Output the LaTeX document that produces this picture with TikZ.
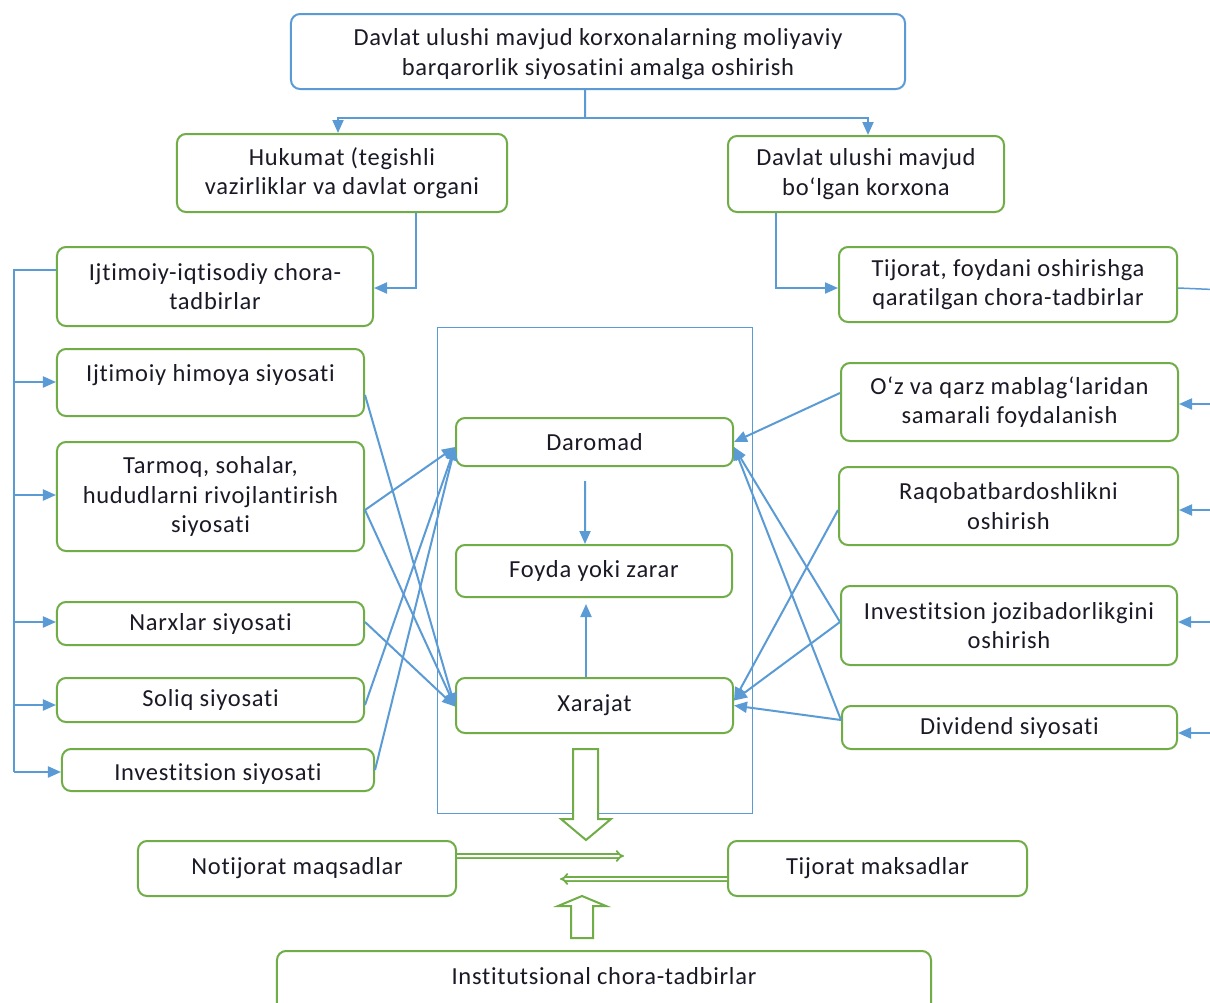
\documentclass[tikz,border=0pt]{standalone}
\usepackage{fontspec}
\setmainfont{Carlito}[LetterSpace=3.0, Ligatures=NoCommon]
\usetikzlibrary{arrows.meta,calc}
\definecolor{bl}{HTML}{5B9BD5}
\definecolor{gr}{HTML}{70AD47}
\definecolor{tx}{HTML}{1A1A26}
\begin{document}
\begin{tikzpicture}[x=1bp,y=-1bp,
 txt/.style={inner sep=0pt, align=center, text=tx, font=\fontsize{24.5bp}{29.5bp}\selectfont},
 box/.style={txt, draw=gr, line width=2bp, rounded corners=9bp},
 con/.style={draw=bl, line width=2bp},
 arr/.style={con, -{Triangle[length=13bp,width=11bp]}},
 dbl/.style={draw=gr, line width=1.8bp, double distance=2bp, -{Implies}},
 blk/.style={draw=gr, line width=2bp, fill=white},
]
\clip (0,0) rectangle (1210,1003);
\fill[white] (0,0) rectangle (1210,1003);

% central frame
\node[draw=bl, line width=1bp, minimum width=315bp, minimum height=486bp, inner sep=0pt] (frame) at (594.5,570) {};

% top
\node[box, draw=bl, minimum width=614bp, minimum height=75bp] (T) at (598,51.5) {};
\node[txt] (Tt) at (598,54) {Davlat ulushi mavjud korxonalarning moliyaviy\\barqarorlik siyosatini amalga oshirish};
\node[box, minimum width=330bp, minimum height=78bp] (H) at (342,173) {Hukumat (tegishli\\vazirliklar va davlat organi};
\node[box, minimum width=276bp, minimum height=76bp] (D) at (866,174) {Davlat ulushi mavjud\\bo‘lgan korxona};

% left column
\node[box, minimum width=316bp, minimum height=79bp] (L0) at (215,286.5) {Ijtimoiy-iqtisodiy chora-\\tadbirlar};
\node[box, minimum width=307bp, minimum height=67bp] (L1) at (210.5,382.5) {};
\node[txt] (L1t) at (210.5,375) {Ijtimoiy himoya siyosati};
\node[box, minimum width=307bp, minimum height=109bp] (L2) at (210.5,496.5) {Tarmoq, sohalar,\\hududlarni rivojlantirish\\siyosati};
\node[box, minimum width=307bp, minimum height=43bp] (L3) at (210.5,623.5) {Narxlar siyosati};
\node[box, minimum width=307bp, minimum height=44bp] (L4) at (210.5,700) {Soliq siyosati};
\node[box, minimum width=312bp, minimum height=42bp] (L5) at (218,770) {};
\node[txt] (L5t) at (218,774) {Investitsion siyosati};

% right column
\node[box, minimum width=338bp, minimum height=75bp] (R0) at (1008,284.5) {Tijorat, foydani oshirishga\\qaratilgan chora-tadbirlar};
\node[box, minimum width=337bp, minimum height=78bp] (R1) at (1009.5,402) {O‘z va qarz mablag‘laridan\\samarali foydalanish};
\node[box, minimum width=339bp, minimum height=78bp] (R2) at (1008.5,506) {Raqobatbardoshlikni\\oshirish};
\node[box, minimum width=336bp, minimum height=79bp] (R3) at (1009,625.5) {Investitsion jozibadorlikgini\\oshirish};
\node[box, minimum width=335bp, minimum height=43bp] (R4) at (1009.5,727.5) {Dividend siyosati};

% center
\node[box, minimum width=277bp, minimum height=48bp] (Dr) at (594.5,442) {Daromad};
\node[box, minimum width=276bp, minimum height=52bp] (F) at (594,571) {Foyda yoki zarar};
\node[box, minimum width=277bp, minimum height=55bp] (X) at (594.5,705.5) {Xarajat};

% bottom
\node[box, minimum width=318bp, minimum height=55bp] (N) at (297,868.5) {Notijorat maqsadlar};
\node[box, minimum width=299bp, minimum height=55bp] (TM) at (877.5,868.5) {Tijorat maksadlar};
\node[box, minimum width=654bp, minimum height=80bp] (I) at (604,991) {};
\node[txt] (It) at (604,976) {Institutsional chora-tadbirlar};

% top connectors
\coordinate (tj) at (585,118);
\draw[con] ([xshift=-13bp]T.south) -- (tj);
\draw[arr] (tj) -| ([xshift=-4bp]H.north);
\draw[arr] (tj) -| ([xshift=2bp]D.north);
\draw[arr] ([xshift=74bp]H.south) |- ([yshift=-1.5bp]L0.east);
\draw[arr] ([xshift=-90bp]D.south) |- ([yshift=-3.5bp]R0.west);

% left bus
\coordinate (lbus) at (14,772);
\draw[con, line width=1.5bp] ([yshift=16.5bp]L0.west) -| (lbus);
\foreach \n/\s in {L1/-0.5,L2/-1.5,L3/-1.5,L4/5,L5/2}
  \draw[arr] ($(\n.west -| lbus)+(0,\s)$) -- ($(\n.west)+(0,\s)$);

% right bus
\coordinate (rbus) at (1225,290);
\draw[con, line width=1.5bp] ([yshift=-3.5bp]R0.east) -- (rbus);
\draw[con] (rbus) -- (rbus |- R4.east);
\foreach \n/\s in {R1/2,R2/4,R3/-3.5,R4/5.5}
  \draw[arr] ($(\n.east -| rbus)+(0,\s)$) -- ($(\n.east)+(0,\s)$);

% left crossing arrows
\draw[arr] ([yshift=-12.5bp]L1.east) -- ([yshift=-1bp]X.west);
\draw[arr] ([yshift=-13.5bp]L2.east) -- ([yshift=-5bp]Dr.west);
\draw[arr] ([yshift=-13.5bp]L2.east) -- ([yshift=-1bp]X.west);
\draw[arr] ([yshift=1.5bp]L3.east) -- ([yshift=-1bp]X.west);
\draw[arr] ([yshift=-5bp]L4.east) -- ([yshift=-5bp]Dr.west);
\draw[arr] (L5.east) -- ([yshift=-5bp]Dr.west);

% right crossing arrows
\draw[arr] ([yshift=9bp]R1.west) -- (Dr.east);
\draw[arr] ([yshift=-4bp]R2.west) -- ([yshift=5bp]X.east);
\draw[arr] ([yshift=3.5bp]R3.west) -- ([yshift=-5bp]Dr.east);
\draw[arr] ([yshift=3.5bp]R3.west) -- ([yshift=5bp]X.east);
\draw[arr] ([yshift=7.5bp]R4.west) -- ([yshift=-5bp]Dr.east);
\draw[arr] ([yshift=7.5bp]R4.west) -- ([yshift=0bp]X.east);

% inner arrows
\draw[arr] ([xshift=-9.5bp,yshift=-14bp]Dr.south) -- ([xshift=-9bp]F.north);
\draw[arr] ([xshift=-8.5bp]X.north) -- ([xshift=-8bp,yshift=-6bp]F.south);

% block arrows
\draw[blk] (573,749) -- (598,749) -- (598,819) -- (611,819) -- (586,840) -- (561,819) -- (573,819) -- cycle;
\draw[blk] (571,938) -- (593,938) -- (593,906) -- (606,906) -- (582,896) -- (558,906) -- (571,906) -- cycle;

% double arrows
\coordinate (nt) at (624,856);
\coordinate (tt) at (560,879);
\draw[dbl] ([yshift=12.5bp]N.east) -- (nt);
\draw[dbl] ([yshift=-10.5bp]TM.west) -- (tt);
\end{tikzpicture}
\end{document}
